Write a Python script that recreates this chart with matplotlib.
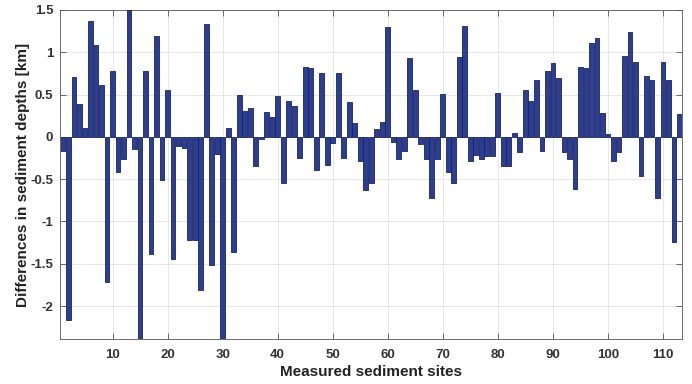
import matplotlib
matplotlib.use("Agg")
import matplotlib.pyplot as plt
import numpy as np

sites = list(range(1, 114))
differences = [
    -0.17, -2.17, 0.71, 0.39, 0.11, 1.37, 1.09, 0.61, -1.71, 0.78,
    -0.41, -0.26, 1.50, -0.14, -2.39, 0.78, -1.39, 1.19, -0.51, 0.56,
    -1.44, -0.11, -0.13, -1.22, -1.22, -1.81, 1.33, -1.52, -0.20, -2.39,
    0.10, -1.36, 0.50, 0.31, 0.34, -0.34, -0.02, 0.29, 0.23, 0.48,
    -0.55, 0.42, 0.37, -0.25, 0.83, 0.82, -0.39, 0.76, -0.33, -0.07,
    0.76, -0.25, 0.41, 0.16, -0.28, -0.63, -0.55, 0.09, 0.17, 1.30,
    -0.06, -0.26, -0.17, 0.93, 0.55, -0.09, -0.26, -0.72, -0.26, 0.51,
    -0.41, -0.55, 0.95, 1.31, -0.28, -0.22, -0.26, -0.23, -0.23, 0.52,
    -0.34, -0.35, 0.04, -0.18, 0.55, 0.42, 0.67, -0.17, 0.78, 0.87,
    0.70, -0.18, -0.26, -0.62, 0.83, 0.81, 1.11, 1.17, 0.28, 0.03,
    -0.29, -0.18, 0.96, 1.24, 0.89, -0.46, 0.72, 0.67, -0.72, 0.89,
    0.67, -1.24, 0.27,
]
x_ticks = [10, 20, 30, 40, 50, 60, 70, 80, 90, 100, 110]
y_ticks = [-2, -1.5, -1, -0.5, 0, 0.5, 1, 1.5]
y_tick_labels = ["-2", "-1.5", "-1", "-0.5", "0", "0.5", "1", "1.5"]

plt.rcParams['font.family'] = ['Liberation Sans', 'DejaVu Sans']
plt.rcParams['font.weight'] = 'bold'

fig = plt.figure(figsize=(6.92, 3.84), dpi=100)
ax = fig.add_axes([0.087, 0.117, 0.899, 0.857])

ax.bar(sites, differences, width=0.88, color='#2c3e91', edgecolor='#1a2460',
       linewidth=0.6, zorder=3)

ax.set_xlim(0.5, 113.5)
ax.set_ylim(-2.39, 1.5)
ax.set_xticks(x_ticks)
ax.set_yticks(y_ticks)
ax.set_yticklabels(y_tick_labels)
ax.tick_params(axis='both', direction='in', length=4, width=0.6, color='#555555',
               labelsize=9.5, top=True, right=True)
ax.tick_params(axis='x', pad=7)
ax.tick_params(axis='y', pad=5)
for lab in ax.get_xticklabels() + ax.get_yticklabels():
    lab.set_fontweight('bold')
    lab.set_color('#333333')

ax.grid(True, color='#e3e3e3', linewidth=0.6, zorder=0)
ax.set_axisbelow(True)
for s in ax.spines.values():
    s.set_color('#555555')
    s.set_linewidth(0.6)

ax.set_xlabel('Measured sediment sites', fontsize=11, fontweight='bold',
              labelpad=3, color='#222222')
ax.set_ylabel('Differences in sediment depths [km]', fontsize=11, fontweight='bold',
              labelpad=0, color='#222222')

fig.savefig('out.png', dpi=100)
